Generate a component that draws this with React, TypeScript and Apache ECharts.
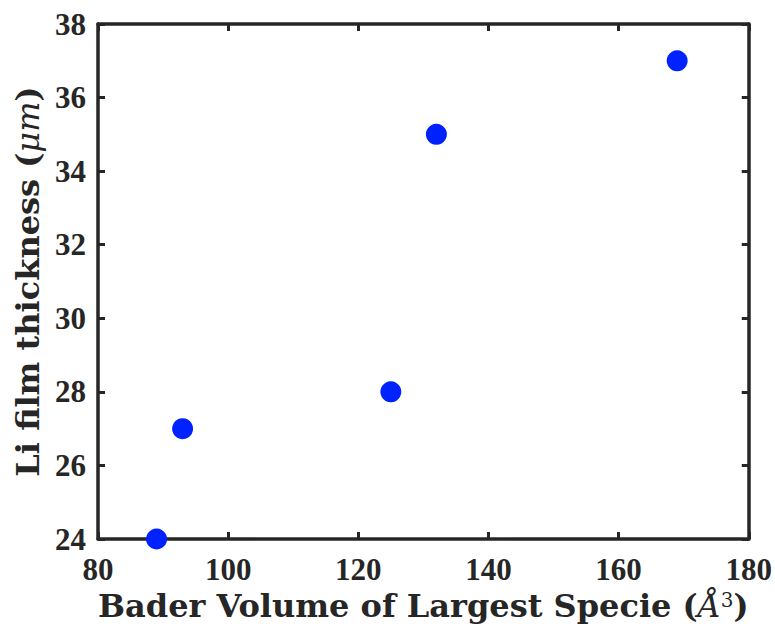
import React, { useEffect, useRef } from "react";
import * as echarts from "echarts";

const volumes = [89, 93, 125, 132, 169];
const thickness = [24, 27, 28, 35, 37];
const xRange = { min: 80, max: 180, interval: 20 };
const yRange = { min: 24, max: 38, interval: 2 };

const AXIS = "#262626";
const TICKFONT = "'Liberation Serif', 'DejaVu Serif', serif";
const TITLEFONT = "'DejaVu Serif', 'Liberation Serif', serif";

export default function App() {
  const ref = useRef<HTMLDivElement>(null);
  useEffect(() => {
    if (!ref.current) return;
    const chart = echarts.init(ref.current, null, { renderer: "svg" });
    const lineStyle = { color: AXIS, width: 3.5 };
    const base = {
      axisLine: { show: true, onZero: false, lineStyle },
      axisTick: { show: true, inside: true, length: 7, lineStyle: { color: AXIS, width: 3 } },
      splitLine: { show: false },
    };
    chart.setOption({
      animation: false,
      backgroundColor: "#ffffff",
      grid: { left: 98, right: 25, top: 24, bottom: 89, containLabel: false },
      xAxis: [
        {
          ...base,
          type: "value",
          position: "bottom",
          ...xRange,
          axisLabel: { color: AXIS, fontFamily: TICKFONT, fontWeight: "bold", fontSize: 31, margin: 15 },
          name: "Bader Volume of Largest Specie ({i|Å}{sup|3})",
          nameLocation: "middle",
          nameGap: 45,
          nameTextStyle: {
            color: AXIS, fontFamily: TITLEFONT, fontWeight: "bold", fontSize: 32,
            rich: {
              i: { fontFamily: TITLEFONT, fontStyle: "italic", fontWeight: "normal", fontSize: 32, color: AXIS },
              sup: { fontFamily: TITLEFONT, fontWeight: "normal", fontSize: 20, color: AXIS, verticalAlign: "top", padding: [0, 0, 13, 0] },
            },
          },
        },
        {
          ...base,
          type: "value",
          position: "top",
          ...xRange,
          axisLabel: { show: false },
        },
      ],
      yAxis: [
        {
          ...base,
          type: "value",
          position: "left",
          ...yRange,
          axisLabel: { color: AXIS, fontFamily: TICKFONT, fontWeight: "bold", fontSize: 31, margin: 12 },
          name: "Li film thickness ({i|μm})",
          nameLocation: "middle",
          nameGap: 53,
          nameTextStyle: {
            color: AXIS, fontFamily: TITLEFONT, fontWeight: "bold", fontSize: 32,
            rich: { i: { fontFamily: TITLEFONT, fontStyle: "italic", fontWeight: "normal", fontSize: 32, color: AXIS } },
          },
        },
        {
          ...base,
          type: "value",
          position: "right",
          ...yRange,
          axisLabel: { show: false },
        },
      ],
      series: [
        {
          type: "scatter",
          xAxisIndex: 0,
          yAxisIndex: 0,
          symbol: "circle",
          symbolSize: 21,
          itemStyle: { color: "#0022ff", opacity: 1 },
          data: volumes.map((v, i) => [v, thickness[i]]),
          z: 10,
        },
      ],
    });
    return () => chart.dispose();
  }, []);
  return (
    <div
      ref={ref}
      style={{ position: "absolute", left: 0, top: 0, width: 775, height: 628 }}
    />
  );
}
